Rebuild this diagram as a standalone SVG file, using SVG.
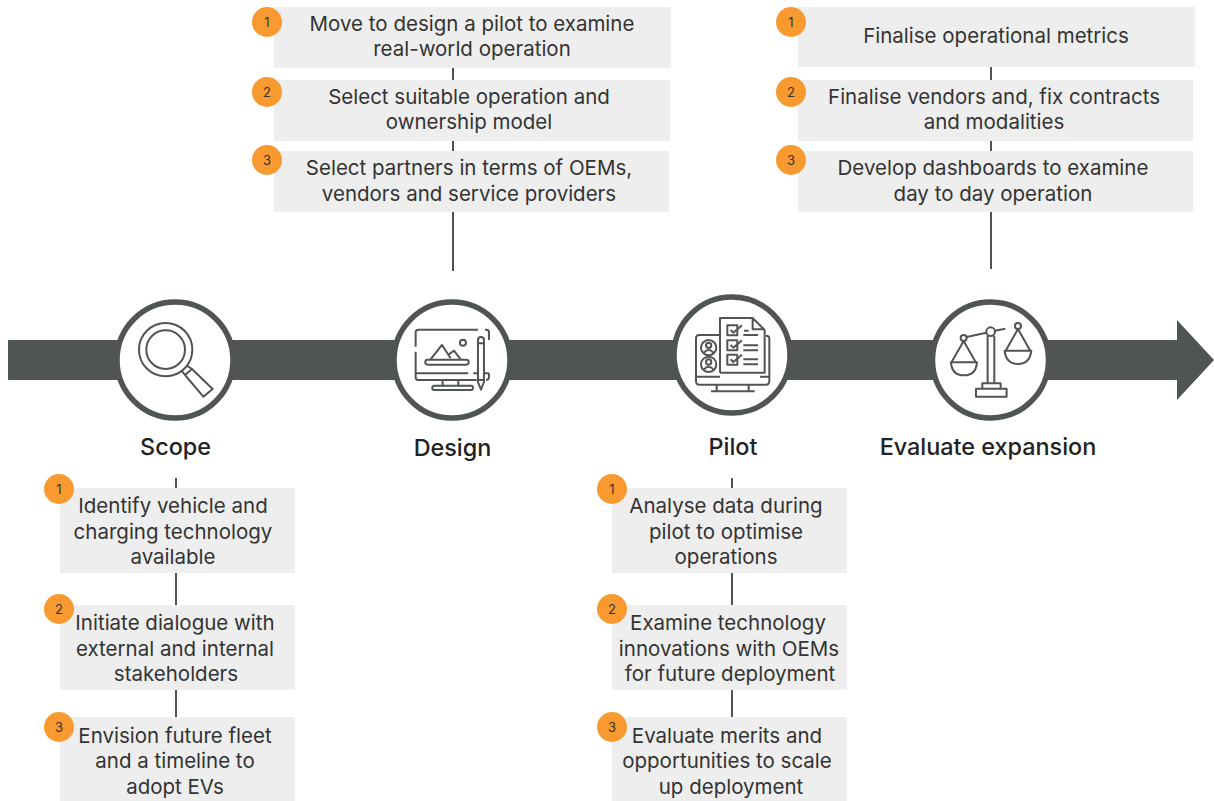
<svg xmlns="http://www.w3.org/2000/svg" width="1214" height="801" viewBox="0 0 1214 801">
<style>
.box{fill:#eeeeee}
.badge{fill:#f99a30}
.num{font:13px Inter,"Liberation Sans",sans-serif;fill:#333;text-anchor:middle}
.t{font:20.5px Inter,"Liberation Sans",sans-serif;fill:#333;text-anchor:middle}
.h{font:500 23.4px Inter,"Liberation Sans",sans-serif;fill:#222;text-anchor:middle}
.c{stroke:#505454;stroke-width:2;fill:none}
.ring{fill:#fff;stroke:#505454;stroke-width:5.500}
.i{fill:none;stroke:#505454;stroke-width:6;stroke-linejoin:round}
.f{fill:#505454}
</style>
<rect width="1214" height="801" fill="#fff"/>
<g id="timeline"><polygon class="f" points="8,340 1177,340 1177,320 1214,360 1177,400 1177,380 8,380"/></g>
<g id="connectors">
<path class="c" d="M453 68V80M453 140V151M453 211V271M991 67V80M991 140V151M991 211V269M176 478V488M176 573V605M176 690V717M732 478V488M732 573V605M732 690V717"/>
</g>
<g id="node-scope">
<circle class="ring" cx="175" cy="360" r="58"/>
<g transform="translate(100 290) scale(.3333)" class="i">
<circle cx="197" cy="179" r="80"/><circle cx="197" cy="179" r="58"/>
<path d="M245 242L255 255M260 227L276 237M255 255L276 237L338 297L310 320Z"/>
</g>
<text class="h" x="175.500" y="455">Scope</text>
</g>
<g id="node-design">
<circle class="ring" cx="452" cy="360" r="58"/>
<g transform="translate(100 290) scale(.3333)" class="i">
<path d="M1134 119H955Q947 119 947 127V170M947 185V262Q947 270 955 270H1130M1155 119H1160Q1167 119 1167 127V150M1167 250V262Q1167 270 1158 270M947 250H1105M1120 250H1134M1152 250H1167"/>
<path d="M992 208L1026 165L1052 205M1044 195L1062 182L1082 208"/>
<rect x="976" y="209" width="130" height="15" rx="7"/>
<circle cx="1089" cy="158" r="9"/>
<path d="M1134 150Q1134 141 1143 141Q1152 141 1152 150V276L1143 299L1134 276ZM1134 160H1152M1134 270H1152"/>
<path d="M1028 270V288M1075 270V288"/>
<rect x="997" y="287" width="122" height="13" rx="6"/>
</g>
<text class="h" x="452.500" y="456">Design</text>
</g>
<g id="node-pilot">
<circle class="ring" cx="732" cy="355" r="58"/>
<g transform="translate(660 290) scale(.3333)" class="i">
<path d="M180 135H118Q108 135 108 145V273Q108 284 118 284H318Q328 284 328 273V145Q328 137 318 137M110 260H180M300 260H326"/>
<path d="M180 248V84H278L314 120V248H180M278 84V118H314"/>
<circle cx="146" cy="173" r="23"/><circle cx="146" cy="223" r="23"/>
<circle cx="146" cy="166" r="8"/><circle cx="146" cy="216" r="8"/>
<path d="M132 188Q146 172 160 188M132 238Q146 222 160 238"/>
<rect x="202" y="106" width="30" height="30"/><rect x="202" y="151" width="30" height="30"/><rect x="202" y="194" width="30" height="30"/>
<path d="M212 120L220 128L246 106M212 165L220 173L246 151M212 208L220 216L246 194M252 122H266M250 135H294M250 166H294M250 181H294M250 208H294M250 223H294"/>
<path d="M170 284V304M266 284V304M153 304H284"/>
</g>
<text class="h" x="733" y="455">Pilot</text>
</g>
<g id="node-evaluate">
<circle class="ring" cx="990.500" cy="360" r="58"/>
<g transform="translate(660 290) scale(.3333)" class="i">
<circle cx="992" cy="125" r="13"/><circle cx="911" cy="144" r="9"/><circle cx="1074" cy="108" r="9"/>
<path d="M920 141L979 128M1005 122L1036 116"/>
<path d="M983 138V280M1003 138V280M967 295V280H1022V295M948 296H1040V320H948Z"/>
<path d="M911 153L875 216M911 153L947 216M873 217H951Q948 256 912 256Q876 256 873 217Z"/>
<path d="M1074 117L1038 181M1074 117L1110 181M1034 182H1114Q1110 222 1074 222Q1038 222 1034 182Z"/>
</g>
<text class="h" x="988" y="455">Evaluate expansion</text>
</g>
<g id="design-1"><rect class="box" x="274" y="7" width="397" height="61"/><circle class="badge" cx="267" cy="22" r="15"/><text class="num" x="267" y="27">1</text><text class="t" x="472" y="31">Move to design a pilot to examine</text><text class="t" x="472" y="56">real-world operation</text></g>
<g id="design-2"><rect class="box" x="274" y="80" width="396" height="61"/><circle class="badge" cx="267" cy="92" r="15"/><text class="num" x="267" y="97">2</text><text class="t" x="469" y="104">Select suitable operation and</text><text class="t" x="469" y="129">ownership model</text></g>
<g id="design-3"><rect class="box" x="274" y="151" width="395" height="61"/><circle class="badge" cx="267" cy="160" r="15"/><text class="num" x="267" y="165">3</text><text class="t" x="469" y="175">Select partners in terms of OEMs,</text><text class="t" x="469" y="201">vendors and service providers</text></g>
<g id="evaluate-1"><rect class="box" x="798" y="7" width="397" height="60"/><circle class="badge" cx="791" cy="22" r="15"/><text class="num" x="791" y="27">1</text><text class="t" x="996" y="43">Finalise operational metrics</text></g>
<g id="evaluate-2"><rect class="box" x="798" y="80" width="395" height="61"/><circle class="badge" cx="791" cy="92" r="15"/><text class="num" x="791" y="97">2</text><text class="t" x="994" y="104">Finalise vendors and, fix contracts</text><text class="t" x="994" y="129">and modalities</text></g>
<g id="evaluate-3"><rect class="box" x="798" y="151" width="395" height="61"/><circle class="badge" cx="791" cy="160" r="15"/><text class="num" x="791" y="165">3</text><text class="t" x="993" y="175">Develop dashboards to examine</text><text class="t" x="993" y="201">day to day operation</text></g>
<g id="scope-1"><rect class="box" x="60" y="488" width="235" height="85"/><circle class="badge" cx="59" cy="489" r="15"/><text class="num" x="59" y="494">1</text><text class="t" x="173" y="513">Identify vehicle and</text><text class="t" x="173" y="539">charging technology</text><text class="t" x="173" y="564">available</text></g>
<g id="scope-2"><rect class="box" x="60" y="605" width="235" height="85"/><circle class="badge" cx="59" cy="609" r="15"/><text class="num" x="59" y="614">2</text><text class="t" x="175" y="630">Initiate dialogue with</text><text class="t" x="175" y="656">external and internal</text><text class="t" x="176" y="681">stakeholders</text></g>
<g id="scope-3"><rect class="box" x="60" y="717" width="235" height="84"/><circle class="badge" cx="59" cy="727" r="15"/><text class="num" x="59" y="732">3</text><text class="t" x="175" y="743">Envision future fleet</text><text class="t" x="175" y="768">and a timeline to</text><text class="t" x="175" y="794">adopt EVs</text></g>
<g id="pilot-1"><rect class="box" x="612" y="488" width="235" height="85"/><circle class="badge" cx="612" cy="489" r="15"/><text class="num" x="612" y="494">1</text><text class="t" x="726" y="513">Analyse data during</text><text class="t" x="726" y="539">pilot to optimise</text><text class="t" x="726" y="564">operations</text></g>
<g id="pilot-2"><rect class="box" x="612" y="605" width="235" height="85"/><circle class="badge" cx="612" cy="609" r="15"/><text class="num" x="612" y="614">2</text><text class="t" x="728" y="630">Examine technology</text><text class="t" x="729" y="656">innovations with OEMs</text><text class="t" x="730" y="681">for future deployment</text></g>
<g id="pilot-3"><rect class="box" x="612" y="717" width="235" height="84"/><circle class="badge" cx="612" cy="727" r="15"/><text class="num" x="612" y="732">3</text><text class="t" x="727" y="743">Evaluate merits and</text><text class="t" x="727" y="768">opportunities to scale</text><text class="t" x="731" y="794">up deployment</text></g>
</svg>
